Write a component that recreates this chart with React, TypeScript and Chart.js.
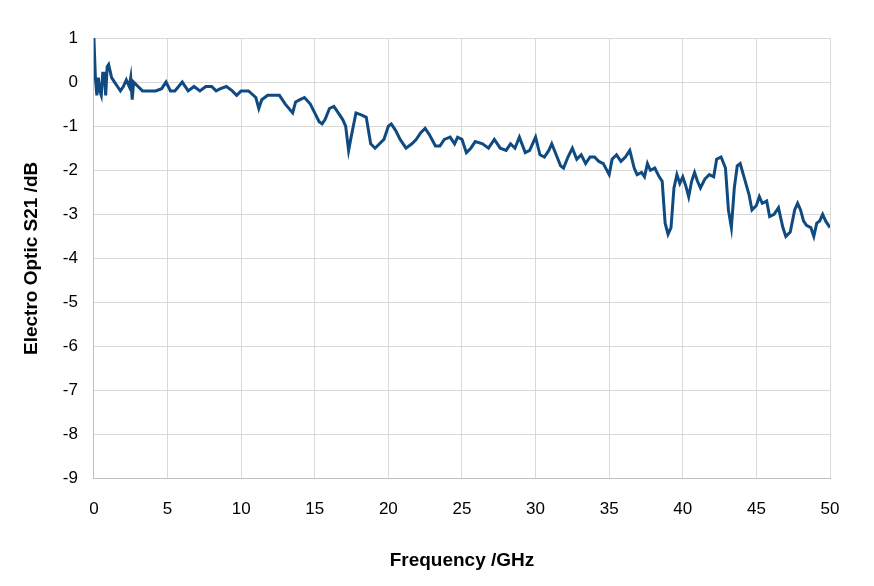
import React, { useEffect, useRef } from "react";
import { Chart, registerables } from "chart.js";
Chart.register(...registerables);

const freqs = [0,0.1,0.2,0.3,0.4,0.5,0.6,0.7,0.8,0.9,1.0,1.2,1.4,1.6,1.8,2.0,2.2,2.4,2.5,2.6,2.7,3.0,3.3,3.8,4.2,4.6,4.9,5.2,5.5,6.0,6.4,6.8,7.2,7.6,8.0,8.3,8.6,9.0,9.4,9.7,10.0,10.3,10.5,11.0,11.2,11.4,11.8,12.2,12.6,13.0,13.5,13.7,14.0,14.3,14.7,15.0,15.3,15.5,15.7,16.0,16.3,16.6,16.9,17.1,17.3,17.5,17.8,18.2,18.5,18.8,19.1,19.4,19.7,20.0,20.2,20.5,20.8,21.2,21.6,21.9,22.2,22.5,22.8,23.2,23.5,23.8,24.2,24.5,24.7,25.0,25.3,25.6,25.9,26.4,26.8,27.2,27.6,28.0,28.3,28.6,28.9,29.3,29.6,30.0,30.3,30.6,30.9,31.1,31.4,31.7,31.9,32.2,32.5,32.8,33.1,33.4,33.7,34.0,34.3,34.6,35.0,35.2,35.5,35.8,36.1,36.4,36.7,36.9,37.2,37.4,37.6,37.8,38.1,38.4,38.6,38.8,39.0,39.2,39.4,39.6,39.8,40.0,40.2,40.4,40.6,40.8,41.0,41.2,41.5,41.8,42.1,42.3,42.6,42.9,43.1,43.3,43.5,43.7,43.9,44.2,44.5,44.7,45.0,45.2,45.4,45.7,45.9,46.2,46.5,46.8,47.0,47.3,47.6,47.8,48.0,48.2,48.4,48.7,48.9,49.1,49.3,49.5,49.7,50.0];
const s21 = [1.0,0.1,-0.3,0.1,-0.2,-0.3,0.2,0.2,-0.3,0.35,0.4,0.1,0.0,-0.1,-0.2,-0.1,0.05,-0.1,0.1,-0.4,0.0,-0.1,-0.2,-0.2,-0.2,-0.15,0.0,-0.2,-0.2,0.0,-0.2,-0.1,-0.2,-0.1,-0.1,-0.2,-0.15,-0.1,-0.2,-0.3,-0.2,-0.2,-0.2,-0.35,-0.6,-0.4,-0.3,-0.3,-0.3,-0.5,-0.7,-0.45,-0.4,-0.35,-0.5,-0.7,-0.9,-0.95,-0.85,-0.6,-0.55,-0.7,-0.85,-1.0,-1.55,-1.2,-0.7,-0.75,-0.8,-1.4,-1.5,-1.4,-1.3,-1.0,-0.95,-1.1,-1.3,-1.5,-1.4,-1.3,-1.15,-1.05,-1.2,-1.45,-1.45,-1.3,-1.25,-1.4,-1.25,-1.3,-1.6,-1.5,-1.35,-1.4,-1.5,-1.3,-1.5,-1.55,-1.4,-1.5,-1.25,-1.6,-1.55,-1.25,-1.65,-1.7,-1.55,-1.4,-1.65,-1.9,-1.95,-1.7,-1.5,-1.75,-1.65,-1.85,-1.7,-1.7,-1.8,-1.85,-2.1,-1.75,-1.65,-1.8,-1.7,-1.55,-1.95,-2.1,-2.05,-2.15,-1.85,-2.0,-1.95,-2.15,-2.25,-3.2,-3.45,-3.3,-2.4,-2.1,-2.3,-2.15,-2.35,-2.6,-2.25,-2.05,-2.25,-2.4,-2.2,-2.1,-2.15,-1.75,-1.7,-1.95,-2.9,-3.3,-2.4,-1.9,-1.85,-2.2,-2.55,-2.9,-2.8,-2.6,-2.75,-2.7,-3.05,-3.0,-2.85,-3.3,-3.5,-3.4,-2.9,-2.75,-2.9,-3.15,-3.25,-3.3,-3.5,-3.2,-3.15,-3.0,-3.15,-3.3];

export default function App() {
  const ref = useRef<HTMLCanvasElement>(null);
  useEffect(() => {
    const font = { family: "'Liberation Sans', Arial, sans-serif", size: 17 };
    const chart = new Chart(ref.current!, {
      type: "line",
      data: {
        datasets: [{
          data: freqs.map((f, i) => ({ x: f, y: s21[i] })),
          borderColor: "#0f4a80",
          borderWidth: 3,
          pointRadius: 0,
          tension: 0,
        }],
      },
      options: {
        animation: false,
        responsive: false,
        layout: { padding: { top: 30, right: 36, left: 8, bottom: 6 } },
        plugins: { legend: { display: false }, tooltip: { enabled: false } },
        scales: {
          x: {
            type: "linear", min: 0, max: 50,
            ticks: { stepSize: 5, color: "#000", font, padding: 20 },
            grid: { color: "#d9d9d9", drawTicks: false },
            border: { color: "#bfbfbf" },
            title: { display: true, text: "Frequency /GHz", color: "#000", padding: { top: 10, bottom: 0 }, font: { ...font, size: 19, weight: "bold" } },
          },
          y: {
            min: -9, max: 1,
            ticks: { stepSize: 1, color: "#000", font, padding: 16 },
            grid: { color: "#d9d9d9", drawTicks: false },
            border: { color: "#bfbfbf" },
            title: { display: true, text: "Electro Optic S21 /dB", color: "#000", font: { ...font, size: 19, weight: "bold" } },
          },
        },
      },
    });
    return () => chart.destroy();
  }, []);
  return <canvas ref={ref} width={858} height={570} />;
}
